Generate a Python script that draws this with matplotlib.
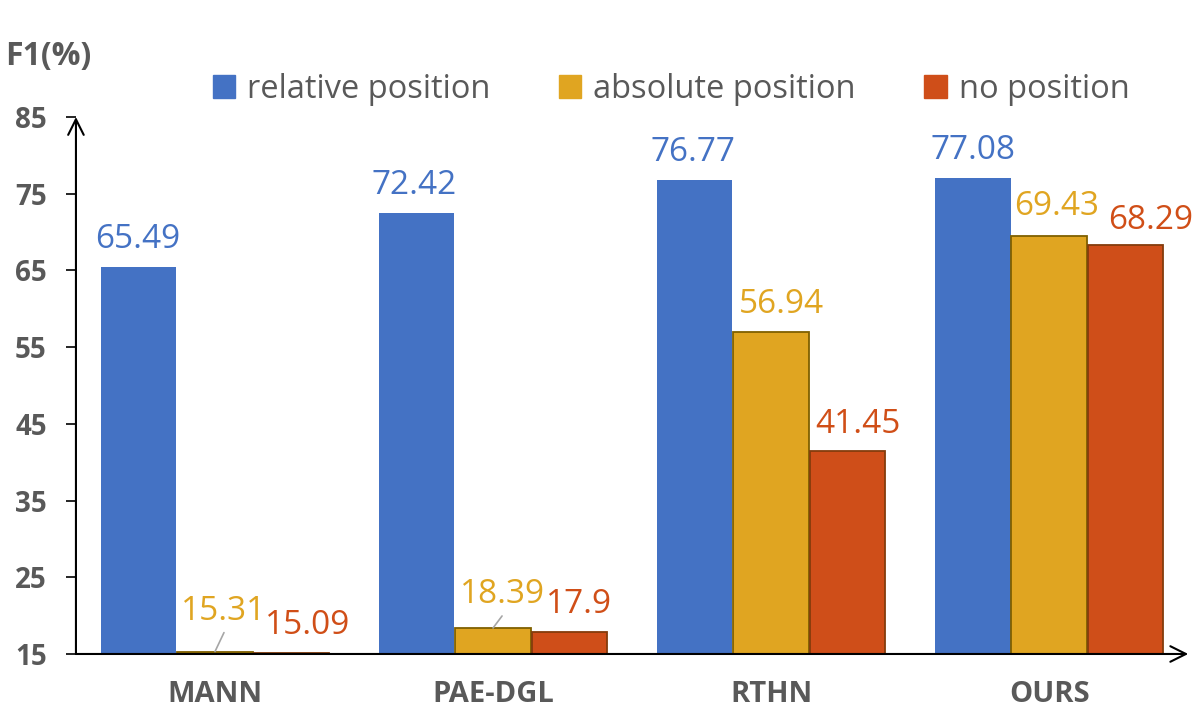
import matplotlib
matplotlib.use("Agg")
import matplotlib.pyplot as plt
from matplotlib.patches import Patch
import numpy as np

plt.rcParams['font.family'] = ['Open Sans', 'DejaVu Sans']

categories = ["MANN", "PAE-DGL", "RTHN", "OURS"]
series_names = ["relative position", "absolute position", "no position"]
relative = [65.49, 72.42, 76.77, 77.08]
absolute = [15.31, 18.39, 56.94, 69.43]
nopos = [15.09, 17.9, 41.45, 68.29]
yticks = [15, 25, 35, 45, 55, 65, 75, 85]

fills = ["#4472C4", "#E0A521", "#CF4E19"]
edges = ["#4472C4", "#7F6000", "#843C0C"]
label_colors = ["#4472C4", "#E0A521", "#D04E17"]
gray = "#595959"

# label placement offsets in pixels (dx, dy above bar top to baseline)
label_dx = [[-1, -2, -2, 0], [9, 9, 10, 7], [16, 9, 10, 25]]
label_dy = [[19, 19, 19, 19], [32, 25, 19, 21], [19, 19, 18, 16]]
leaders = {(1, 0): ((9, 19), (0, 1)), (1, 1): ((9, 12), (0, 0))}

fig = plt.figure(figsize=(11.96, 7.09), dpi=100)
ax = fig.add_axes([0.0635, 0.0776, 0.930, 0.7574])

x = np.arange(len(categories))
w = 0.272
offs = [-0.275, 0.0, 0.275]
data = [relative, absolute, nopos]
for i, vals in enumerate(data):
    ax.bar(x + offs[i], np.array(vals) - 15, width=w, bottom=15,
           color=fills[i], edgecolor=edges[i],
           linewidth=0 if i == 0 else 1.3, zorder=2)
    for j, v in enumerate(vals):
        xx = x[j] + offs[i]
        ax.annotate(f"{v:g}", xy=(xx, v), xytext=(label_dx[i][j], label_dy[i][j]),
                    textcoords="offset pixels", ha="center", va="baseline",
                    fontsize=24, color=label_colors[i], annotation_clip=False)
        if (i, j) in leaders:
            (sx, sy), (ex, ey) = leaders[(i, j)]
            ax.annotate("", xy=(xx, v), xytext=(sx, sy), textcoords="offset pixels",
                        arrowprops=dict(arrowstyle="-", color="#A6A6A6", lw=1.2,
                                        shrinkA=0, shrinkB=0, relpos=(0.5, 0.5)))

ax.set_xlim(-0.5, 3.5)
ax.set_ylim(15, 85)
ax.set_yticks(yticks)
ax.set_yticklabels([str(t) for t in yticks], fontsize=20, fontweight="bold", color=gray)
ax.set_xticks(x)
ax.set_xticklabels(categories, fontsize=21, fontweight="bold", color=gray)
ax.tick_params(axis="y", length=7, width=1.2, direction="out", pad=14)
ax.tick_params(axis="x", length=0, pad=19)
for s in ax.spines.values():
    s.set_visible(False)

ax.annotate("", xy=(0, 1.0), xytext=(0, 0), xycoords="axes fraction",
            arrowprops=dict(arrowstyle="->", color="black", lw=1.5,
                            mutation_scale=28, shrinkA=0, shrinkB=0), zorder=5, annotation_clip=False)
ax.annotate("", xy=(1.0, 0), xytext=(0, 0), xycoords="axes fraction",
            arrowprops=dict(arrowstyle="->", color="black", lw=1.5,
                            mutation_scale=28, shrinkA=0, shrinkB=0), zorder=5, annotation_clip=False)

fig.text(0.004, 0.920, "F1(%)", fontsize=23, fontweight="bold", color=gray, ha="left", va="center")

handles = [Patch(facecolor=fills[i], edgecolor=fills[i]) for i in range(3)]
leg = fig.legend(handles, series_names, loc="center left", bbox_to_anchor=(0.178, 0.874),
                 ncol=3, frameon=False, fontsize=23.5, handlelength=0.68, handleheight=0.68,
                 handletextpad=0.37, columnspacing=2.1, borderaxespad=0, borderpad=0)
for t in leg.get_texts():
    t.set_color(gray)

fig.savefig("out.png", dpi=100)
